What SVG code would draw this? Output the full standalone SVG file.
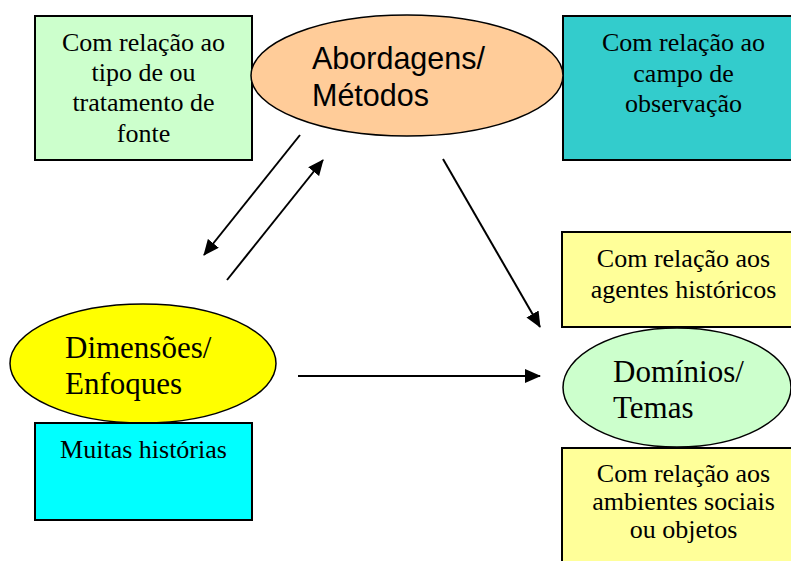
<svg xmlns="http://www.w3.org/2000/svg" width="791" height="561" viewBox="0 0 791 561">
<style>
.box{stroke:#000;stroke-width:2}
.ell{stroke:#000;stroke-width:1.5}
.t{font-family:'Liberation Serif','Times New Roman',Times,'DejaVu Serif',serif;font-size:26px;fill:#000;text-anchor:middle}
.tl{font-family:'Liberation Serif','Times New Roman',Times,'DejaVu Serif',serif;font-size:31px;fill:#000}
.ta{font-family:'Liberation Sans',Arial,sans-serif;font-size:30.5px;fill:#000}
.c{stroke:#000;stroke-width:2;fill:none;marker-end:url(#ah)}
</style>
<defs>
<marker id="ah" markerWidth="16" markerHeight="14" refX="15" refY="7" orient="auto" markerUnits="userSpaceOnUse">
<path d="M0,0 L16,7 L0,14 Z" fill="#000"/>
</marker>
</defs>
<rect width="791" height="561" fill="#fff"/>
<g id="n_tipo">
<rect class="box" x="35" y="16" width="217" height="144" fill="#CCFFCC"/>
<text class="t" x="143.5" y="51">Com relação ao</text>
<text class="t" x="143.5" y="81">tipo de ou</text>
<text class="t" x="143.5" y="111">tratamento de</text>
<text class="t" x="143.5" y="142">fonte</text>
</g>
<g id="n_campo">
<rect class="box" x="563" y="16" width="245" height="144" fill="#33CCCC"/>
<text class="t" x="683.5" y="51">Com relação ao</text>
<text class="t" x="683.5" y="82">campo de</text>
<text class="t" x="683.5" y="112">observação</text>
</g>
<g id="n_abordagens">
<ellipse class="ell" cx="407" cy="75.5" rx="156" ry="60.5" fill="#FFCC99"/>
<text class="ta" x="312" y="69">Abordagens/</text>
<text class="ta" x="312" y="106">Métodos</text>
</g>
<g id="n_agentes">
<rect class="box" x="562" y="232" width="245" height="95" fill="#FFFF99"/>
<text class="t" x="683.5" y="267">Com relação aos</text>
<text class="t" x="683.5" y="298">agentes históricos</text>
</g>
<g id="n_dimensoes">
<ellipse class="ell" cx="143" cy="363.5" rx="133" ry="59.5" fill="#FFFF00"/>
<text class="tl" x="65" y="358">Dimensões/</text>
<text class="tl" x="65" y="394">Enfoques</text>
</g>
<g id="n_muitas">
<rect class="box" x="35" y="423" width="217" height="97" fill="#00FFFF"/>
<text class="t" x="143.5" y="458">Muitas histórias</text>
</g>
<g id="n_dominios">
<ellipse class="ell" cx="677" cy="387.5" rx="114" ry="59.5" fill="#CCFFCC"/>
<text class="tl" x="613" y="382">Domínios/</text>
<text class="tl" x="613" y="418">Temas</text>
</g>
<g id="n_ambientes">
<rect class="box" x="562" y="448" width="245" height="130" fill="#FFFF99"/>
<text class="t" x="683.5" y="482">Com relação aos</text>
<text class="t" x="683.5" y="510">ambientes sociais</text>
<text class="t" x="683.5" y="538">ou objetos</text>
</g>
<g id="connectors">
<line class="c" x1="300" y1="135" x2="204" y2="255"/>
<line class="c" x1="227" y1="280" x2="323" y2="160"/>
<line class="c" x1="443" y1="159" x2="540" y2="327"/>
<line class="c" x1="298" y1="376" x2="540" y2="376"/>
</g>
</svg>
